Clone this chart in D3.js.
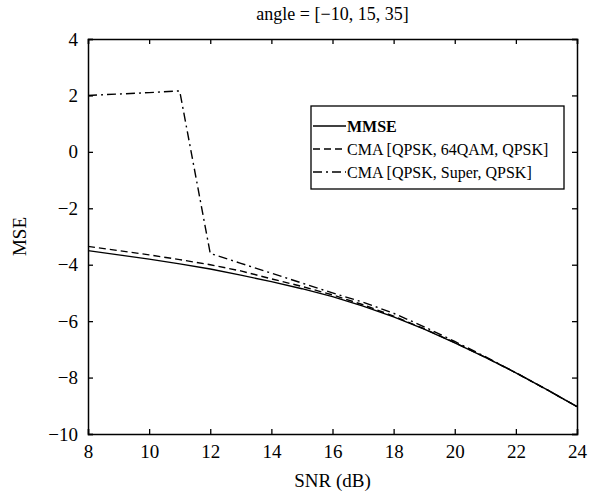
<!DOCTYPE html>
<html>
<head>
<meta charset="utf-8">
<script src="https://cdn.jsdelivr.net/npm/d3@7"></script>
<style>
  body { margin: 0; background: #fff; }
  text { font-family: "Liberation Serif", "Times New Roman", "DejaVu Serif", serif; }
</style>
</head>
<body>
<div id="chart"></div>
<script>
var snr = [8, 9, 10, 11, 12, 13, 14, 15, 16, 17, 18, 19, 20, 21, 22, 23, 24];
var mmse = [-3.5, -3.65, -3.8, -3.97, -4.15, -4.37, -4.6, -4.85, -5.13, -5.47, -5.85, -6.28, -6.77, -7.28, -7.83, -8.42, -9.03];
var cma64 = [-3.35, -3.5, -3.65, -3.82, -4.0, -4.22, -4.5, -4.77, -5.07, -5.42, -5.82, -6.27, -6.76, -7.28, -7.83, -8.42, -9.03];
var cmaSuper = [2.0, 2.05, 2.1, 2.16, -3.6, -3.95, -4.3, -4.65, -5.0, -5.33, -5.72, -6.2, -6.72, -7.26, -7.83, -8.42, -9.03];
var xTicks = [8, 10, 12, 14, 16, 18, 20, 22, 24];
var yTicks = [-10, -8, -6, -4, -2, 0, 2, 4];
var legendLabels = ["MMSE", "CMA [QPSK, 64QAM, QPSK]", "CMA [QPSK, Super, QPSK]"];

var margin = { top: 39, right: 23, bottom: 59, left: 88 },
    width = 600 - margin.left - margin.right,
    height = 493 - margin.top - margin.bottom;

var svg = d3.select("#chart").append("svg")
    .attr("width", 600)
    .attr("height", 493);

var g = svg.append("g")
    .attr("transform", "translate(" + margin.left + "," + margin.top + ")");

var x = d3.scaleLinear().domain([8, 24]).range([0, width]);
var y = d3.scaleLinear().domain([-10, 4]).range([height, 0]);

// axes with inward ticks on all four sides
var fmt = function (d) { return d < 0 ? "\u2212" + Math.abs(d) : d; };
g.append("g").attr("class", "axis")
    .attr("transform", "translate(0," + height + ")")
    .call(d3.axisBottom(x).tickValues(xTicks).tickSize(-5).tickPadding(11).tickFormat(fmt));
g.append("g").attr("class", "axis")
    .call(d3.axisTop(x).tickValues(xTicks).tickSize(-5).tickFormat(""));
g.append("g").attr("class", "axis")
    .call(d3.axisLeft(y).tickValues(yTicks).tickSize(-5).tickPadding(10).tickFormat(fmt));
g.append("g").attr("class", "axis")
    .attr("transform", "translate(" + width + ",0)")
    .call(d3.axisRight(y).tickValues(yTicks).tickSize(-5).tickFormat(""));

g.selectAll(".axis").attr("font-family", null).attr("font-size", null);
g.selectAll(".axis path").attr("stroke", "#000").attr("stroke-width", 1.5);
g.selectAll(".axis line").attr("stroke", "#000").attr("stroke-width", 1.3);
g.selectAll(".axis text").attr("font-size", 19).attr("fill", "#000");

var line = d3.line()
    .x(function (d, i) { return x(snr[i]); })
    .y(function (d) { return y(d); });

var series = [
    { values: mmse, dash: null },
    { values: cma64, dash: "7,4" },
    { values: cmaSuper, dash: "9,4,2,4" }
];

g.selectAll(".curve")
    .data(series)
    .enter().append("path")
    .attr("class", "curve")
    .attr("d", function (d) { return line(d.values); })
    .attr("fill", "none")
    .attr("stroke", "#000")
    .attr("stroke-width", 1.4)
    .attr("stroke-dasharray", function (d) { return d.dash; });

// legend
var legend = svg.append("g").attr("transform", "translate(311,106)");
legend.append("rect")
    .attr("width", 253).attr("height", 83)
    .attr("fill", "#fff").attr("stroke", "#000").attr("stroke-width", 1.3);

var item = legend.selectAll(".item")
    .data(legendLabels)
    .enter().append("g")
    .attr("class", "item")
    .attr("transform", function (d, i) { return "translate(0," + (20 + i * 23) + ")"; });

item.append("line")
    .attr("x1", 2).attr("x2", 35)
    .attr("stroke", "#000").attr("stroke-width", 1.4)
    .attr("stroke-dasharray", function (d, i) { return series[i].dash; });

item.append("text")
    .attr("x", 36).attr("dy", "0.35em")
    .attr("font-size", 16)
    .attr("font-weight", function (d, i) { return i === 0 ? "bold" : "normal"; })
    .text(function (d) { return d; });

// title and axis labels
svg.append("text")
    .attr("x", margin.left + width / 2).attr("y", 20)
    .attr("text-anchor", "middle").attr("font-size", 18)
    .text("angle = [\u221210, 15, 35]");

svg.append("text")
    .attr("x", margin.left + width / 2).attr("y", 487)
    .attr("text-anchor", "middle").attr("font-size", 19)
    .text("SNR (dB)");

svg.append("text")
    .attr("transform", "translate(26," + (margin.top + height / 2) + ") rotate(-90)")
    .attr("text-anchor", "middle").attr("font-size", 19)
    .text("MSE");
</script>
</body>
</html>
